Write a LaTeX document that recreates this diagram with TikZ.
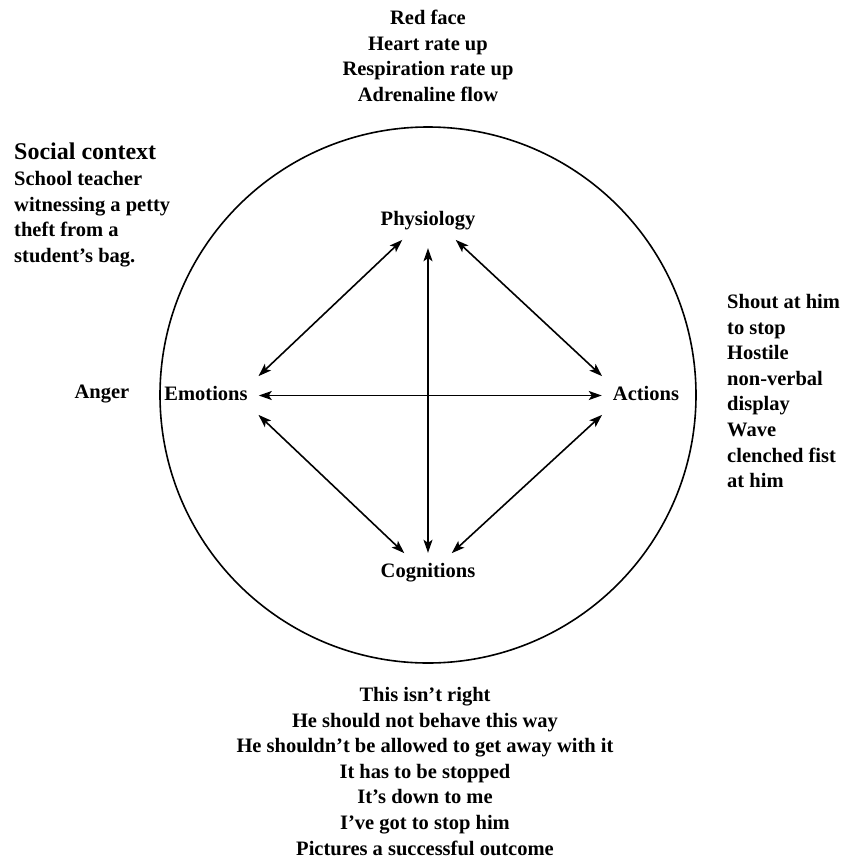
\documentclass[tikz,border=0pt]{standalone}
\usepackage{fontspec}
\setmainfont{Liberation Serif}
\usetikzlibrary{arrows.meta}
\begin{document}
\begin{tikzpicture}[x=1pt, y=-1pt, line join=round, line cap=round,
    >={Stealth[length=13pt, width=9pt, inset=3pt]},
    font=\bfseries\fontsize{20.5}{25.6}\selectfont,
    txt/.style={inner sep=0pt},
    hub/.style={inner xsep=10pt, inner ysep=9pt, text height=14pt, text depth=5pt},
    link/.style={<->, line width=1.6pt, shorten <=1pt, shorten >=1pt}]
	\useasboundingbox (0,0) rectangle (842,860);
	\draw[line width=1.6pt] (428,395) circle (268);
	% the four corners of the diamond
	\node[hub, anchor=base] (phys) at (428,225) {Physiology};
	\node[hub, anchor=base] (emo) at (206,400) {Emotions};
	\node[hub, anchor=base] (act) at (646,400) {Actions};
	\node[hub, anchor=base] (cog) at (428,577) {Cognitions};
	\draw[link, shorten <=9pt] (phys.south) -- (cog.north);
	\draw[link] (emo) -- (act);
	\draw[link] ([xshift=-25pt]phys.south) -- (emo.north east);
	\draw[link] ([xshift=27pt]phys.south) -- (act.north west);
	\draw[link] (emo.south east) -- ([xshift=-23pt]cog.north);
	\draw[link] (act.south west) -- ([xshift=23pt]cog.north);
	% texts round the circle
	\node[txt, anchor=north, align=center] (body) at (428,10) {Red face\\Heart rate up\\Respiration rate up\\Adrenaline flow};
	\node[txt, anchor=north west, align=left] (social) at (14,143) {{\fontsize{24}{25.6}\selectfont Social context}\\School teacher\\witnessing a petty\\theft from a\\student’s bag.};
	\node[txt, anchor=base] (anger) at (102,398) {Anger};
	\node[txt, anchor=north west, align=left] (doing) at (727,294) {Shout at him\\to stop\\Hostile\\non-verbal\\display\\Wave\\clenched fist\\at him};
	\node[txt, anchor=north, align=center] (thoughts) at (425,687) {This isn’t right\\He should not behave this way\\He shouldn’t be allowed to get away with it\\It has to be stopped\\It’s down to me\\I’ve got to stop him\\Pictures a successful outcome};
\end{tikzpicture}
\end{document}
